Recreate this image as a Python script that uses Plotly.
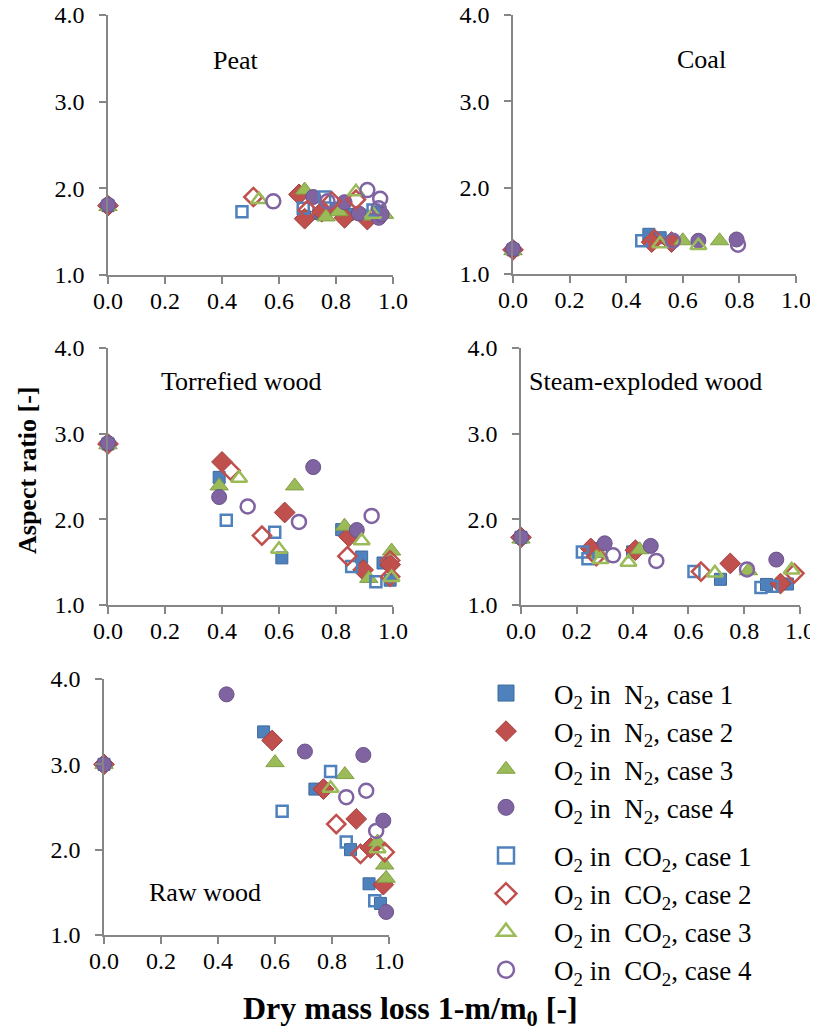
import plotly.graph_objects as go

# ---------------- data ----------------
SERIES = ["N2_1", "N2_2", "N2_3", "N2_4", "CO2_1", "CO2_2", "CO2_3", "CO2_4"]
LABELS = [
    "O<sub>2</sub> in\u00a0 N<sub>2</sub>, case 1",
    "O<sub>2</sub> in\u00a0 N<sub>2</sub>, case 2",
    "O<sub>2</sub> in\u00a0 N<sub>2</sub>, case 3",
    "O<sub>2</sub> in\u00a0 N<sub>2</sub>, case 4",
    "O<sub>2</sub> in\u00a0 CO<sub>2</sub>, case 1",
    "O<sub>2</sub> in\u00a0 CO<sub>2</sub>, case 2",
    "O<sub>2</sub> in\u00a0 CO<sub>2</sub>, case 3",
    "O<sub>2</sub> in\u00a0 CO<sub>2</sub>, case 4",
]
PANEL_TITLES = ["Peat", "Coal", "Torrefied wood", "Steam-exploded wood", "Raw wood"]
X_TICKS = [0.0, 0.2, 0.4, 0.6, 0.8, 1.0]
Y_TICKS = [1.0, 2.0, 3.0, 4.0]

PEAT = {
    "N2_1": ([0, 0.69, 0.74, 0.80, 0.84, 0.95], [1.80, 1.67, 1.71, 1.77, 1.70, 1.72]),
    "N2_2": ([0, 0.67, 0.69, 0.75, 0.83, 0.91], [1.80, 1.93, 1.65, 1.73, 1.66, 1.64]),
    "N2_3": ([0, 0.69, 0.765, 0.81, 0.90, 0.97], [1.79, 1.98, 1.67, 1.73, 1.68, 1.70]),
    "N2_4": ([0, 0.72, 0.83, 0.88, 0.95, 0.96], [1.81, 1.90, 1.84, 1.71, 1.66, 1.70]),
    "CO2_1": ([0.47, 0.685, 0.76, 0.93], [1.73, 1.77, 1.90, 1.75]),
    "CO2_2": ([0.51, 0.70, 0.785, 0.87], [1.90, 1.75, 1.85, 1.87]),
    "CO2_3": ([0.53, 0.87, 0.93], [1.87, 1.96, 1.70]),
    "CO2_4": ([0.58, 0.77, 0.91, 0.955, 0.95], [1.85, 1.85, 1.98, 1.88, 1.77]),
}
COAL = {
    "N2_1": ([0, 0.48, 0.52], [1.28, 1.46, 1.42]),
    "N2_2": ([0, 0.49, 0.56], [1.28, 1.37, 1.37]),
    "N2_3": ([0, 0.60, 0.73], [1.27, 1.385, 1.385]),
    "N2_4": ([0, 0.655, 0.79], [1.29, 1.385, 1.40]),
    "CO2_1": ([0.455], [1.385]),
    "CO2_2": ([0.50], [1.40]),
    "CO2_3": ([0.52, 0.655], [1.35, 1.33]),
    "CO2_4": ([0.565, 0.795], [1.385, 1.34]),
}
TORREFIED = {
    "N2_1": ([0, 0.39, 0.61, 0.82, 0.89, 0.965, 0.99], [2.88, 2.49, 1.55, 1.88, 1.56, 1.49, 1.29]),
    "N2_2": ([0, 0.40, 0.62, 0.845, 0.895, 0.99], [2.88, 2.67, 2.08, 1.80, 1.41, 1.47]),
    "N2_3": ([0, 0.39, 0.655, 0.83, 0.915, 0.995], [2.87, 2.39, 2.39, 1.92, 1.31, 1.63]),
    "N2_4": ([0, 0.39, 0.72, 0.873], [2.89, 2.26, 2.61, 1.875]),
    "CO2_1": ([0.415, 0.585, 0.855, 0.94], [1.99, 1.85, 1.45, 1.27]),
    "CO2_2": ([0.43, 0.54, 0.84, 0.99, 0.99], [2.57, 1.81, 1.57, 1.52, 1.33]),
    "CO2_3": ([0.46, 0.60, 0.89, 0.995], [2.48, 1.65, 1.75, 1.32]),
    "CO2_4": ([0.49, 0.67, 0.925], [2.15, 1.97, 2.04]),
}
STEAM = {
    "N2_1": ([0, 0.26, 0.40, 0.715, 0.88, 0.955], [1.79, 1.66, 1.62, 1.30, 1.24, 1.245]),
    "N2_2": ([0, 0.25, 0.41, 0.75, 0.93], [1.79, 1.66, 1.64, 1.485, 1.25]),
    "N2_3": ([0, 0.28, 0.425, 0.815], [1.77, 1.60, 1.645, 1.40]),
    "N2_4": ([0, 0.30, 0.465, 0.915], [1.79, 1.72, 1.69, 1.53]),
    "CO2_1": ([0.22, 0.24, 0.62, 0.86, 0.90], [1.62, 1.54, 1.39, 1.205, 1.22]),
    "CO2_2": ([0.27, 0.645, 0.98], [1.57, 1.39, 1.37]),
    "CO2_3": ([0.285, 0.385, 0.695, 0.97], [1.53, 1.50, 1.375, 1.41]),
    "CO2_4": ([0.33, 0.485, 0.81], [1.58, 1.515, 1.415]),
}
RAW = {
    "N2_1": ([0, 0.56, 0.74, 0.865, 0.93, 0.97], [3.0, 3.38, 2.71, 2.00, 1.60, 1.37]),
    "N2_2": ([0, 0.59, 0.77, 0.885, 0.935, 0.98], [3.0, 3.28, 2.71, 2.36, 2.02, 1.59]),
    "N2_3": ([0, 0.60, 0.845, 0.96, 0.985, 0.99], [3.0, 3.02, 2.88, 2.09, 1.82, 1.665]),
    "N2_4": ([0, 0.43, 0.705, 0.91, 0.98, 0.99], [3.0, 3.82, 3.15, 3.11, 2.34, 1.27]),
    "CO2_1": ([0.625, 0.795, 0.85, 0.95], [2.45, 2.915, 2.09, 1.40]),
    "CO2_2": ([0.815, 0.90, 0.985], [2.30, 1.95, 1.97]),
    "CO2_3": ([0.795, 0.96], [2.72, 2.01]),
    "CO2_4": ([0.85, 0.92, 0.955], [2.615, 2.69, 2.22]),
}
PANELS = [PEAT, COAL, TORREFIED, STEAM, RAW]

# ---------------- styles ----------------
OFF = 8  # page body margin of the html page
W, H = 818 - OFF, 1032 - OFF
BLUE, RED, GREEN, PURPLE = "#4F81BD", "#C0504D", "#9BBB59", "#8064A2"
DBLUE, DRED, DGREEN, DPURPLE = "#3C6A9E", "#A23F3C", "#82A047", "#6B5289"
STYLE = {
    "N2_1": dict(symbol="square", size=12, color=BLUE, line=dict(color=DBLUE, width=1)),
    "N2_2": dict(symbol="diamond", size=16, color=RED, line=dict(color=DRED, width=1)),
    "N2_3": dict(symbol="triangle-up", size=16, color=GREEN, line=dict(color=DGREEN, width=1)),
    "N2_4": dict(symbol="circle", size=15, color=PURPLE, line=dict(color=DPURPLE, width=1)),
    "CO2_1": dict(symbol="square-open", size=11, color=BLUE, line=dict(color=BLUE, width=2.5)),
    "CO2_2": dict(symbol="diamond-open", size=14, color=RED, line=dict(color=RED, width=2.5)),
    "CO2_3": dict(symbol="triangle-up-open", size=14, color=GREEN, line=dict(color=GREEN, width=2.5)),
    "CO2_4": dict(symbol="circle-open", size=14, color=PURPLE, line=dict(color=PURPLE, width=2.5)),
}

# panel domains in reference pixels: (x0, x1, ytop, ybottom)
DOMAINS = [
    (108, 393, 15, 275),
    (513, 796, 15, 274),
    (108, 393, 348, 605),
    (521, 800, 348, 605),
    (104, 389, 679, 935),
]
TITLE_POS = [(236, 60), (701, 59), (241, 381), (645, 381), (205, 892)]

FONT = "Liberation Serif"
AXCOL = "#868686"


def px_x(v):
    return (v - OFF) / W


def px_y(v):
    return 1 - (v - OFF) / H


fig = go.Figure()

for p, data in enumerate(PANELS):
    xa = "x" if p == 0 else f"x{p+1}"
    ya = "y" if p == 0 else f"y{p+1}"
    for i, s in enumerate(SERIES):
        xs, ys = data[s]
        fig.add_trace(go.Scatter(
            x=xs, y=ys, mode="markers", xaxis=xa, yaxis=ya,
            marker=STYLE[s], name=LABELS[i], showlegend=False,
            legendgroup="N2" if s.startswith("N2") else "CO2",
            cliponaxis=False, hoverinfo="skip",
        ))

# legend-only entries (no data), with larger symbols like the reference legend
for i, s in enumerate(SERIES):
    st = dict(STYLE[s])
    st["size"] = 16
    fig.add_trace(go.Scatter(
        x=[None], y=[None], mode="markers", xaxis="x5", yaxis="y5",
        marker=st, name=LABELS[i], showlegend=True,
        legendgroup="N2" if s.startswith("N2") else "CO2",
        hoverinfo="skip",
    ))

layout = dict(
    width=W, height=H,
    margin=dict(l=0, r=0, t=0, b=0),
    paper_bgcolor="white", plot_bgcolor="white",
    font=dict(family=FONT, size=20, color="black"),
    showlegend=True,
    legend=dict(
        x=px_x(458), y=px_y(669), xanchor="left", yanchor="top",
        font=dict(family=FONT, size=27, color="black"),
        tracegroupgap=10, itemwidth=86, traceorder="grouped",
        bgcolor="rgba(0,0,0,0)",
    ),
)

for p, (x0, x1, yt, yb) in enumerate(DOMAINS):
    xk = "xaxis" if p == 0 else f"xaxis{p+1}"
    yk = "yaxis" if p == 0 else f"yaxis{p+1}"
    ya = "y" if p == 0 else f"y{p+1}"
    xa = "x" if p == 0 else f"x{p+1}"
    layout[xk] = dict(
        domain=[px_x(x0), px_x(x1)], range=[0, 1], anchor=ya,
        tickvals=X_TICKS, ticktext=[f"{v:.1f}" for v in X_TICKS],
        showline=True, linecolor=AXCOL, linewidth=1.5,
        ticks="outside", ticklen=7, tickcolor=AXCOL, tickwidth=1.5,
        showgrid=False, zeroline=False, automargin=False,
        ticklabelstandoff=-4, ticklabeloverflow="allow",
        tickfont=dict(family=FONT, size=24, color="black"),
    )
    layout[yk] = dict(
        domain=[px_y(yb), px_y(yt)], range=[1, 4], anchor=xa,
        tickvals=Y_TICKS, ticktext=[f"{v:.1f}" for v in Y_TICKS],
        showline=True, linecolor=AXCOL, linewidth=1.5,
        ticks="outside", ticklen=7, tickcolor=AXCOL, tickwidth=1.5,
        showgrid=False, zeroline=False, automargin=False,
        ticklabelstandoff=10, ticklabeloverflow="allow",
        tickfont=dict(family=FONT, size=24, color="black"),
    )

annotations = []
for t, (tx, ty) in zip(PANEL_TITLES, TITLE_POS):
    annotations.append(dict(
        text=t, x=px_x(tx), y=px_y(ty), xref="paper", yref="paper",
        xanchor="center", yanchor="middle", showarrow=False,
        font=dict(family=FONT, size=26, color="black"),
    ))
annotations.append(dict(
    text="<b>Aspect ratio [-]</b>", x=px_x(27), y=px_y(470), xref="paper", yref="paper",
    xanchor="center", yanchor="middle", showarrow=False, textangle=-90,
    font=dict(family=FONT, size=26, color="black"),
))
annotations.append(dict(
    text="<b>Dry mass loss 1-m/m<sub>0</sub> [-]</b>", x=px_x(410), y=px_y(1010),
    xref="paper", yref="paper", xanchor="center", yanchor="middle", showarrow=False,
    font=dict(family=FONT, size=32, color="black"),
))
layout["annotations"] = annotations

fig.update_layout(**layout)
fig.write_html("out.html")
